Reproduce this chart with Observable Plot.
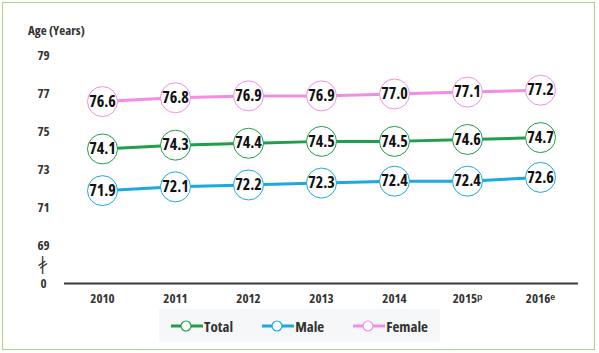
<!DOCTYPE html>
<html><head><meta charset="utf-8">
<script src="https://cdn.jsdelivr.net/npm/d3@7"></script>
<script src="https://cdn.jsdelivr.net/npm/@observablehq/plot@0.6"></script>
<style>
body{margin:0;background:#fff}
#wrap{position:relative;width:599px;height:353px;overflow:hidden;font-family:"Open Sans",sans-serif;font-stretch:condensed;font-weight:bold;color:#333}
#frame{position:absolute;left:2px;top:2px;width:591px;height:346px;border:1.5px solid #add38b;}
#chart{position:absolute;left:0;top:0}
#chart svg{font-stretch:condensed}
#ylab{position:absolute;left:28px;top:21px;font-size:13px;color:#333}
#legend{position:absolute;left:159px;top:309px;width:281px;height:33px;background:#f6f7f9;display:flex;align-items:center;justify-content:center;gap:29px;font-size:15px;color:#333}
.item{display:flex;align-items:center}
.item svg{margin-right:1px}
</style></head>
<body>
<div id="wrap">
  <div id="frame"></div>
  <div id="chart"></div>
  <div id="ylab">Age (Years)</div>
  <div id="legend"></div>
</div>
<script>
const years = ["2010","2011","2012","2013","2014","2015ᵖ","2016ᵉ"];
const total = [74.1,74.3,74.4,74.5,74.5,74.6,74.7];
const male = [71.9,72.1,72.2,72.3,72.4,72.4,72.6];
const female = [76.6,76.8,76.9,76.9,77.0,77.1,77.2];
const seriesNames = ["Total","Male","Female"];
const seriesColors = ["#1f9e4b","#1ba9e1","#f28de6"];
const yTicks = [67,69,71,73,75,77,79];
const yTickLabels = ["0","69","71","73","75","77","79"];

const seriesValues = [total, male, female];
const rows = [];
seriesNames.forEach((s, si) => years.forEach((y, i) => rows.push({series: s, year: y, value: seriesValues[si][i]})));
const colorOf = Object.fromEntries(seriesNames.map((s,i)=>[s, seriesColors[i]]));
const fmt = d3.format(".1f");
const font = '"Open Sans",sans-serif';

const chart = Plot.plot({
  width: 599,
  height: 312,
  marginLeft: 64,
  marginRight: 21,
  marginTop: 55.6,
  marginBottom: 29,
  style: {fontFamily: font, fontWeight: "bold", color: "#333", background: "transparent"},
  x: {type: "point", domain: years, padding: 0.5},
  y: {domain: [67, 79]},
  marks: [
    Plot.axisY({ticks: yTicks, tickSize: 0, tickPadding: 0, textAnchor: "middle", dx: -21,
      tickFormat: d => yTickLabels[yTicks.indexOf(d)], fontSize: 13, label: null}),
    Plot.axisX({tickSize: 0, tickPadding: 10, fontSize: 13, label: null}),
    Plot.text([68], {y: d => d, frameAnchor: "left", textAnchor: "middle", lineAnchor: "middle", dx: -22, text: () => "|", fontSize: 17, fontFamily: "DejaVu Sans", fontWeight: "normal", fill: "#333"}),
    Plot.text([68], {y: d => d, frameAnchor: "left", textAnchor: "middle", lineAnchor: "middle", dx: -22, text: () => "=", rotate: -35, fontSize: 15, fontFamily: "DejaVu Sans", fontWeight: "normal", fill: "#333"}),
    Plot.ruleY([67], {stroke: "#3a3a3a", strokeWidth: 2}),
    Plot.line(rows, {x: "year", y: "value", z: "series", stroke: d => colorOf[d.series], strokeWidth: 3}),
    Plot.dot(rows, {x: "year", y: "value", r: 15, fill: "white", stroke: d => colorOf[d.series], strokeWidth: 1}),
    Plot.text(rows, {x: "year", y: "value", text: d => fmt(d.value), fontSize: 16, fill: "#111", fontWeight: "bold"})
  ]
});
document.getElementById("chart").append(chart);

const legend = document.getElementById("legend");
seriesNames.forEach((s, i) => {
  const it = document.createElement("div");
  it.className = "item";
  it.innerHTML = `<svg width="32" height="12"><line x1="0" x2="32" y1="6" y2="6" stroke="${seriesColors[i]}" stroke-width="3"/><circle cx="15" cy="6" r="5" fill="white" stroke="${seriesColors[i]}" stroke-width="1.2"/></svg><span>${s}</span>`;
  legend.append(it);
});
</script>
</body></html>
